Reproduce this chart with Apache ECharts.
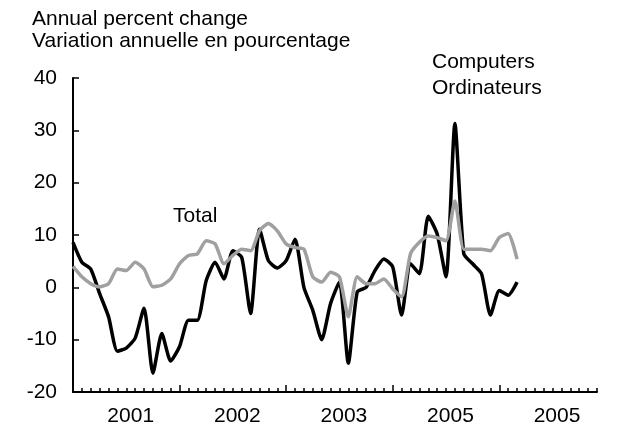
<!DOCTYPE html>
<html>
<head>
<meta charset="utf-8">
<script src="https://cdn.jsdelivr.net/npm/echarts@6/dist/echarts.min.js"></script>
<style>
  html, body { margin: 0; padding: 0; background: #fff; }
  #chart { width: 617px; height: 427px; }
</style>
</head>
<body>
<div id="chart"></div>
<script>
// monthly values, month 0 = first month on the axis
const computers = [8.6, 4.8, 3.5, -1.2, -5.6, -12.2, -11.6, -9.7, -4.0, -16.4,
    -8.8, -14.1, -11.3, -6.3, -6.3, 1.3, 4.8, 1.6, 7.0, 5.7,
    -5.0, 11.1, 5.1, 3.7, 5.1, 9.2, 0.0, -4.4, -10.0, -3.1,
    1.0, -14.5, -0.9, 0.0, 3.2, 5.4, 3.9, -5.3, 4.5, 2.6,
    13.6, 10.2, 2.0, 31.3, 6.4, 4.5, 2.6, -5.3, -0.6, -1.5, 1.0];
const total = [4.0, 2.0, 0.7, 0.1, 0.7, 3.5, 3.2, 4.8, 3.5, 0.1,
    0.4, 1.6, 4.5, 6.1, 6.4, 8.9, 8.3, 4.5, 6.1, 7.3,
    7.0, 10.8, 12.2, 10.8, 8.3, 7.6, 7.3, 2.0, 1.0, 2.9,
    2.0, -5.6, 2.0, 0.7, 0.7, 1.6, -0.3, -1.8, 6.4, 8.6,
    9.8, 9.5, 8.9, 16.5, 7.3, 7.3, 7.3, 7.0, 9.5, 10.3, 5.4];
const yearLabels = ['2001', '2002', '2003', '2005', '2005'];
const yearStarts = [0, 12, 24, 36, 48];
const monthCount = 59;

const font = 'Liberation Sans, Arial, Helvetica, sans-serif';
const toPoints = arr => arr.map((v, i) => [i, v]);
const labelPos = yearStarts.map(m => m + 6.5);
const monthTicks = [];
for (let m = 0; m <= monthCount; m++) monthTicks.push(m);

const chart = echarts.init(document.getElementById('chart'));
const option = {
    animation: false,
    grid: { left: 73, right: 20, top: 78, bottom: 32, containLabel: false },
    xAxis: [
        {
            type: 'value',
            min: 0,
            max: monthCount,
            position: 'bottom',
            splitLine: { show: false },
            axisLine: { show: true, onZero: false, lineStyle: { color: '#000', width: 2 } },
            axisTick: { show: true, inside: true, length: 7, customValues: yearStarts, lineStyle: { color: '#000', width: 1.5 } },
            axisLabel: {
                customValues: labelPos,
                formatter: v => yearLabels[labelPos.indexOf(v)] || '',
                color: '#000',
                fontSize: 21,
                fontFamily: font,
                margin: 14
            }
        },
        {
            type: 'value',
            min: 0,
            max: monthCount,
            position: 'bottom',
            splitLine: { show: false },
            axisLine: { show: false, onZero: false },
            axisTick: { show: true, inside: true, length: 4, customValues: monthTicks, lineStyle: { color: '#000', width: 1.5 } },
            axisLabel: { show: false }
        }
    ],
    yAxis: {
        type: 'value',
        min: -20,
        max: 40,
        interval: 10,
        splitLine: { show: false },
        axisLine: { show: true, onZero: false, lineStyle: { color: '#000', width: 2 } },
        axisTick: { show: true, inside: true, length: 6, lineStyle: { color: '#000', width: 1.5 } },
        axisLabel: { color: '#000', fontSize: 21, fontFamily: font, margin: 16 }
    },
    series: [
        {
            name: 'Computers',
            type: 'line',
            data: toPoints(computers),
            showSymbol: false,
            smooth: 0.2,
            lineStyle: { color: '#000', width: 3.5, join: 'round' }
        },
        {
            name: 'Total',
            type: 'line',
            data: toPoints(total),
            showSymbol: false,
            smooth: 0.2,
            lineStyle: { color: '#a0a0a0', width: 3.5, join: 'round' }
        }
    ],
    graphic: [
        { type: 'text', left: 32, top: 9, style: { text: 'Annual percent change', font: '21px ' + font, fill: '#000' } },
        { type: 'text', left: 32, top: 31, style: { text: 'Variation annuelle en pourcentage', font: '21px ' + font, fill: '#000' } },
        { type: 'text', left: 432, top: 52, style: { text: 'Computers', font: '21px ' + font, fill: '#000' } },
        { type: 'text', left: 432, top: 78, style: { text: 'Ordinateurs', font: '21px ' + font, fill: '#000' } },
        { type: 'text', left: 173, top: 206, style: { text: 'Total', font: '21px ' + font, fill: '#000' } }
    ]
};
chart.setOption(option);
</script>
</body>
</html>
